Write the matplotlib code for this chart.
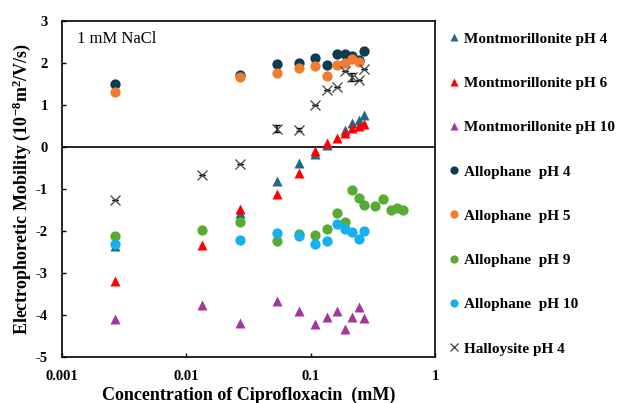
import matplotlib.pyplot as plt
import numpy as np

# --- datos ---
conc = [0.0027, 0.0135, 0.027, 0.054, 0.081, 0.108, 0.135, 0.162, 0.189, 0.216, 0.243, 0.27]

mont4_x = [0.0027, 0.027, 0.054, 0.081, 0.108, 0.135, 0.189, 0.216, 0.243, 0.27]
mont4_y = [-2.36, -1.56, -0.82, -0.39, -0.17, 0.05, 0.40, 0.58, 0.64, 0.76]

mont6_x = conc
mont6_y = [-3.18, -2.33, -1.48, -1.12, -0.63, -0.09, 0.10, 0.22, 0.34, 0.46, 0.51, 0.54]

mont10_x = conc
mont10_y = [-4.10, -3.77, -4.18, -3.66, -3.90, -4.22, -4.04, -3.90, -4.34, -4.04, -3.81, -4.07]

allo4_x = [0.0027, 0.027, 0.054, 0.081, 0.108, 0.135, 0.162, 0.189, 0.216, 0.243, 0.27]
allo4_y = [1.50, 1.71, 1.97, 2.01, 2.11, 1.94, 2.22, 2.22, 2.17, 2.08, 2.28]

allo5_x = [0.0027, 0.027, 0.054, 0.081, 0.108, 0.135, 0.162, 0.189, 0.216, 0.243]
allo5_y = [1.30, 1.66, 1.75, 1.88, 1.92, 1.70, 1.94, 2.01, 2.09, 2.02]

allo9_x = [0.0027, 0.0135, 0.027, 0.054, 0.081, 0.108, 0.135, 0.162, 0.189, 0.216,
           0.243, 0.27, 0.33, 0.385, 0.44, 0.49, 0.55]
allo9_y = [-2.12, -1.98, -1.78, -2.24, -2.07, -2.09, -1.95, -1.57, -1.78, -1.03,
           -1.21, -1.38, -1.40, -1.24, -1.49, -1.45, -1.49]

allo10_x = [0.0027, 0.027, 0.054, 0.081, 0.108, 0.135, 0.162, 0.189, 0.216, 0.243, 0.27]
allo10_y = [-2.32, -2.22, -2.04, -2.12, -2.30, -2.24, -1.83, -1.95, -2.03, -2.20, -2.00]

hall_x = [0.0027, 0.0135, 0.027, 0.054, 0.081, 0.108, 0.135, 0.162, 0.189, 0.216, 0.243, 0.27]
hall_y = [-1.27, -0.67, -0.40, 0.44, 0.41, 1.00, 1.35, 1.43, 1.80, 1.67, 1.59, 1.86]
hall_err = [0, 0, 0, 0.08, 0.04, 0, 0, 0, 0, 0.1, 0, 0]

plt.rcParams['font.family'] = ['Liberation Serif', 'DejaVu Serif']
plt.rcParams['axes.unicode_minus'] = False
plt.rcParams['mathtext.fontset'] = 'custom'
plt.rcParams['mathtext.rm'] = 'Liberation Serif:bold'
plt.rcParams['mathtext.it'] = 'Liberation Serif:bold'
plt.rcParams['mathtext.bf'] = 'Liberation Serif:bold'
plt.rcParams['mathtext.default'] = 'rm'

fig = plt.figure(figsize=(6.18, 4.03), dpi=100)
ax = fig.add_axes([0.100, 0.114, 0.604, 0.834])

ms_t = 7.2   # triangulos
ms_c = 7.4   # circulos
ax.plot(mont4_x, mont4_y, '^', color='#1f6a8a', ms=ms_t, mec='none', label='Montmorillonite pH 4')
ax.plot(mont6_x, mont6_y, '^', color='#ff0000', ms=ms_t, mec='none', label='Montmorillonite pH 6')
ax.plot(mont10_x, mont10_y, '^', color='#a0369e', ms=ms_t, mec='none', label='Montmorillonite pH 10')
ax.plot(allo4_x, allo4_y, 'o', color='#0d3b4f', ms=ms_c, mec='none', label='Allophane  pH 4')
ax.plot(allo5_x, allo5_y, 'o', color='#ed7d31', ms=ms_c, mec='none', label='Allophane  pH 5')
ax.plot(allo9_x, allo9_y, 'o', color='#5aab32', ms=ms_c, mec='none', label='Allophane  pH 9')
ax.plot(allo10_x, allo10_y, 'o', color='#17b0ef', ms=ms_c, mec='none', label='Allophane  pH 10')
ax.errorbar(hall_x, hall_y, yerr=hall_err, fmt='none', ecolor='black', elinewidth=1.2, capsize=2.5)
ax.plot(hall_x, hall_y, 'x', color='#404040', ms=7.5, mew=0.9, label='Halloysite pH 4')

ax.axhline(0, color='black', lw=1.2, zorder=0)

ax.set_xscale('log')
ax.set_xlim(0.001, 1)
ax.set_ylim(-5, 3)
ax.set_yticks(range(-5, 4))
ax.set_xticks([0.001, 0.01, 0.1, 1])
ax.set_xticklabels(['0.001', '0.01', '0.1', '1'])
ax.minorticks_off()
ax.tick_params(direction='in', length=3, width=1, labelsize=10.5)
ax.tick_params(axis='x', pad=9)
ax.tick_params(axis='y', pad=10)
for lab in ax.get_xticklabels() + ax.get_yticklabels():
    lab.set_fontweight('bold')
for s in ax.spines.values():
    s.set_linewidth(1.2)

ax.set_xlabel('Concentration of Ciprofloxacin  (mM)', fontsize=13, fontweight='bold', labelpad=3)
ax.set_ylabel('Electrophoretic Mobility (10$^{-8}$m$^{2}$/V/s)', fontsize=13, fontweight='bold', labelpad=2)
ax.text(0.04, 0.97, '1 mM NaCl', transform=ax.transAxes, fontsize=12, va='top', ha='left')

leg = ax.legend(loc='upper left', bbox_to_anchor=(1.02, 0.985), frameon=False,
                prop={'weight': 'bold', 'size': 11}, handlelength=0.7, handletextpad=0.3,
                labelspacing=2.0, markerscale=0.8, borderaxespad=0)

fig.savefig('out.png', dpi=100)
